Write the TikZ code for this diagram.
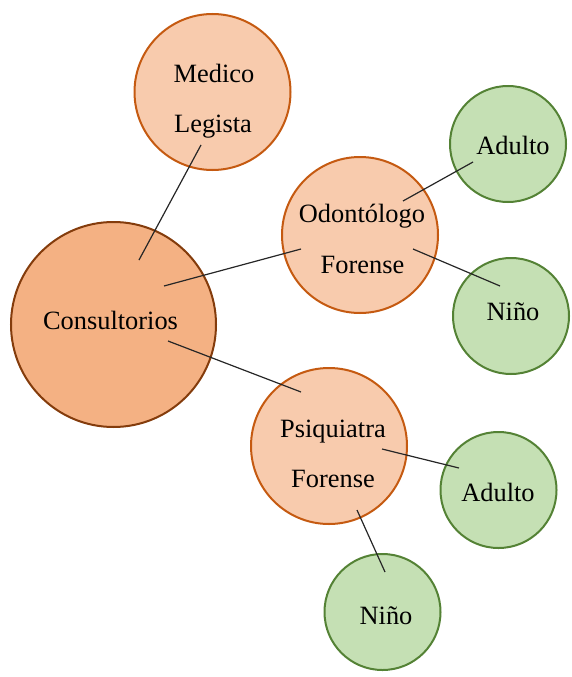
\documentclass[tikz,border=0pt]{standalone}
\usepackage{fontspec}
\setmainfont{Liberation Serif}
\definecolor{mainfill}{HTML}{F4B183}
\definecolor{mainline}{HTML}{843C0C}
\definecolor{orfill}{HTML}{F8CBAD}
\definecolor{orline}{HTML}{C55A11}
\definecolor{grfill}{HTML}{C5E0B4}
\definecolor{grline}{HTML}{548235}
\definecolor{connc}{HTML}{262626}
\begin{document}
\begin{tikzpicture}[x=1pt,y=-1pt,
  bubble/.style={circle, inner sep=0pt, line width=2pt},
  mainb/.style={bubble, fill=mainfill, draw=mainline, minimum size=205pt},
  subb/.style={bubble, fill=orfill, draw=orline, minimum size=156pt},
  leafb/.style={bubble, fill=grfill, draw=grline, minimum size=116pt},
  lbl/.style={anchor=base, inner sep=0pt, font=\fontsize{26.4}{50}\selectfont},
  link/.style={draw=connc, line width=1.2pt}]
\useasboundingbox (0,0) rectangle (572,677);
% circles
\node[mainb] (cons) at (113.5,324.5) {};
\node[subb] (med) at (212.5,92) {};
\node[subb] (odo) at (360,235) {};
\node[subb] (psi) at (329,446) {};
\node[leafb] (adu1) at (508,144) {};
\node[leafb] (nin1) at (511,316) {};
\node[leafb] (adu2) at (498.5,490) {};
\node[leafb] (nin2) at (382.5,612) {};
% connector end points
\coordinate (cm1) at (139,260);  \coordinate (cm2) at (201,145);
\coordinate (co1) at (164,286);  \coordinate (co2) at (301,249);
\coordinate (cp1) at (168,341);  \coordinate (cp2) at (301,392);
\coordinate (oa1) at (403,201);  \coordinate (oa2) at (473,162);
\coordinate (on1) at (413,249);  \coordinate (on2) at (500,286);
\coordinate (pa1) at (382,449);  \coordinate (pa2) at (459,468);
\coordinate (pn1) at (357,510);  \coordinate (pn2) at (385,572);
% connectors
\draw[link] (cm1) -- (cm2);
\draw[link] (co1) -- (co2);
\draw[link] (cp1) -- (cp2);
\draw[link] (oa1) -- (oa2);
\draw[link] (on1) -- (on2);
\draw[link] (pa1) -- (pa2);
\draw[link] (pn1) -- (pn2);
% labels
\node[lbl] (tcons) at (110.5,329) {Consultorios};
\node[lbl] (tmed1) at (214,82) {Medico};
\node[lbl] (tmed2) at (213,132) {Legista};
\node[lbl] (todo1) at (362,222) {Odontólogo};
\node[lbl] (todo2) at (362.5,273) {Forense};
\node[lbl] (tpsi1) at (333,437) {Psiquiatra};
\node[lbl] (tpsi2) at (333,487) {Forense};
\node[lbl] (tadu1) at (513,154) {Adulto};
\node[lbl] (tnin1) at (513,320) {Niño};
\node[lbl] (tadu2) at (498,501) {Adulto};
\node[lbl] (tnin2) at (386,624) {Niño};
\end{tikzpicture}
\end{document}
